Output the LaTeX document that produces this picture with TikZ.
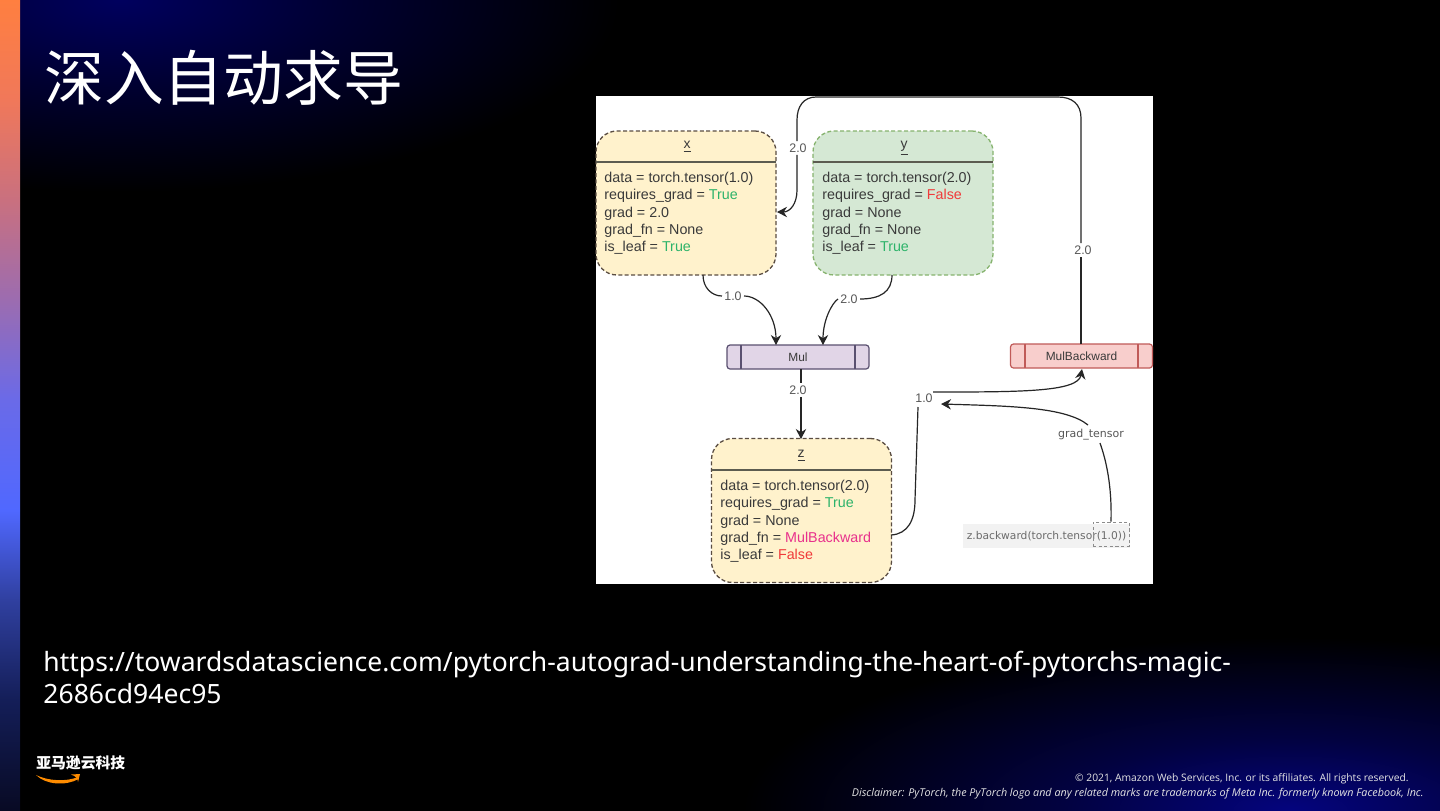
\documentclass[tikz,border=0pt]{standalone}
\usepackage{fontspec}
\usetikzlibrary{arrows.meta}
\setmainfont{Liberation Sans}
\newfontfamily\cjk{Noto Sans CJK SC}
\newfontfamily\urlfont{Noto Sans}
\newfontfamily\footfont{Open Sans}
\newfontfamily\wide{DejaVu Sans}
\definecolor{navyglow}{HTML}{00005E}
\definecolor{navymid}{HTML}{000030}
\definecolor{navyglowb}{HTML}{04047E}
\definecolor{navymidb}{HTML}{020240}
\definecolor{creamb}{HTML}{FFF2CC}
\definecolor{greenb}{HTML}{D5E8D4}
\definecolor{purpb}{HTML}{E1D5E7}
\definecolor{redb}{HTML}{F8CECC}
\definecolor{darkedge}{HTML}{5A4D42}
\definecolor{greenedge}{HTML}{86B36E}
\definecolor{purpedge}{HTML}{5A5070}
\definecolor{rededge}{HTML}{C05A58}
\definecolor{rule}{HTML}{5C5C50}
\definecolor{ink}{HTML}{3A3A3A}
\definecolor{okgreen}{HTML}{2DB36A}
\definecolor{badred}{HTML}{F03A3A}
\definecolor{pinkish}{HTML}{E8308C}
\definecolor{sa}{HTML}{FF7F40}
\definecolor{sb}{HTML}{F0785A}
\definecolor{sc}{HTML}{C87080}
\definecolor{sd}{HTML}{9C6CB0}
\definecolor{se}{HTML}{6A6AE8}
\definecolor{sf}{HTML}{5068FF}
\definecolor{sg}{HTML}{3040A0}
\definecolor{sh}{HTML}{141E58}
\definecolor{si}{HTML}{080A24}
\pgfdeclareverticalshading{stripshade}{100bp}{color(0bp)=(si); color(25bp)=(si); color(31.8bp)=(sh); color(38bp)=(sg); color(43.5bp)=(sf); color(50.3bp)=(se); color(56.5bp)=(sd); color(62.5bp)=(sc); color(68.8bp)=(sb); color(75bp)=(sa); color(100bp)=(sa)}
\pgfdeclareradialshading{glowtop}{\pgfpointorigin}{color(0bp)=(navyglow); color(11bp)=(navymid); color(24bp)=(black); color(50bp)=(black)}
\pgfdeclareradialshading{glowbottom}{\pgfpointorigin}{color(0bp)=(navyglowb); color(10bp)=(navymidb); color(24bp)=(black); color(50bp)=(black)}
\tikzset{
  objbox/.style={rounded corners=10.5pt,dashed,dash pattern=on 2pt off 1.2pt,line width=.65pt,minimum width=90pt,minimum height=72pt,inner sep=0pt},
  funcbox/.style={rounded corners=1.5pt,line width=.6pt,minimum width=71pt,minimum height=12pt,inner sep=0pt},
  body/.style={anchor=north west,inner sep=0pt,align=left,text=ink,font=\fontsize{7.15pt}{8.6pt}\selectfont},
  heading/.style={inner sep=0pt,text=ink,font=\fontsize{7pt}{8pt}\selectfont},
  edgelabel/.style={inner sep=1pt,text=ink!85,font=\fontsize{6.2pt}{7pt}\selectfont},
  conn/.style={draw=black!85,line width=.6pt},
  connarrow/.style={conn,-{Stealth[length=5pt,width=5.2pt]}},
}
\begin{document}
\begin{tikzpicture}[x=0.5pt,y=-0.5pt]
\useasboundingbox (0,0) rectangle (1440,810);
\fill[black] (-6,-6) rectangle (1446,816);
% background glows
\begin{scope}
\clip (20,0) rectangle (1440,810);
\shade[shading=glowtop] (-400,-200) rectangle (640,200);
\shade[shading=glowbottom] (720,630) rectangle (1860,990);
\end{scope}
% left strip
\shade[shading=stripshade] (-6,0) rectangle (20,810);
% title
\node[anchor=west,inner sep=0pt,text=white,font=\cjk\fontsize{29.9pt}{32pt}\selectfont] (title) at (44,78) {深入自动求导};
% url
\node[anchor=north west,inner sep=0pt,align=left,text=white,font=\urlfont\fontsize{13.27pt}{16pt}\selectfont] (url) at (43,651) {https://towardsdatascience.com/pytorch-autograd-understanding-the-heart-of-pytorchs-magic-\\2686cd94ec95};
% image
\fill[white] (596,96) rectangle (1153,584);
% boxes
\node[objbox,draw=darkedge,fill=creamb] (boxx) at (686,203) {};
\node[objbox,draw=greenedge,fill=greenb] (boxy) at (903,203) {};
\node[objbox,draw=darkedge,fill=creamb] (boxz) at (801.5,510.5) {};
\draw[rule,line width=.9pt] (596,162) -- (776,162);
\draw[rule,line width=.9pt] (813,162) -- (993,162);
\draw[rule,line width=.9pt] (712,470) -- (891,470);
\node[heading] (xhead) at (687,147) {\underline{x}};
\node[heading] (yhead) at (904,148) {\underline{y}};
\node[heading] (zhead) at (801,456) {\underline{z}};
\node[body] (xbody) at (604,172) {data = torch.tensor(1.0)\\requires\_grad = \textcolor{okgreen}{True}\\grad = 2.0\\grad\_fn = None\\is\_leaf = \textcolor{okgreen}{True}};
\node[body] (ybody) at (822,172) {data = torch.tensor(2.0)\\requires\_grad = \textcolor{badred}{False}\\grad = None\\grad\_fn = None\\is\_leaf = \textcolor{okgreen}{True}};
\node[body] (zbody) at (720,480) {data = torch.tensor(2.0)\\requires\_grad = \textcolor{okgreen}{True}\\grad = None\\grad\_fn = \textcolor{pinkish}{MulBackward}\\is\_leaf = \textcolor{badred}{False}};
% function boxes
\node[funcbox,draw=purpedge,fill=purpb,text=ink,font=\fontsize{5.95pt}{7pt}\selectfont] (mul) at (798,357) {Mul};
\draw[purpedge,line width=.6pt] (741,345) -- (741,369) (855,345) -- (855,369);
\node[funcbox,draw=rededge,fill=redb,text=ink,font=\fontsize{5.95pt}{7pt}\selectfont] (mulb) at (1081.5,356) {MulBackward};
\draw[rededge,line width=.6pt] (1025,344) -- (1025,368) (1138,344) -- (1138,368);
% z.backward call
\node[minimum width=83.5pt,minimum height=12pt,inner sep=0pt,fill=black!5,text=ink!75,font=\wide\fontsize{5.35pt}{7pt}\selectfont] (call) at (1046.5,536) {z.backward(torch.tensor(1.0))};
\node[draw=black!45,dashed,dash pattern=on 1.6pt off 1.2pt,line width=.4pt,minimum width=18pt,minimum height=12pt,inner sep=0pt] (arg) at (1111,534) {};
% edge labels
\node[edgelabel] (l20top) at (798,148) {2.0};
\node[edgelabel] (l20right) at (1083,250) {2.0};
\node[edgelabel] (l10x) at (733,296) {1.0};
\node[edgelabel] (l20y) at (849,299) {2.0};
\node[edgelabel] (l20mul) at (798,390) {2.0};
\node[edgelabel] (l10z) at (924,398) {1.0};
\node[edgelabel,font=\wide\fontsize{5.5pt}{7pt}\selectfont] (lgrad) at (1091,435) {grad\_tensor};
% connector helper points
\coordinate (xout) at (703,275);
\coordinate (mulinl) at (776,345);
\coordinate (yout) at (892,275);
\coordinate (mulinr) at (823,345);
\coordinate (mulout) at (801,369);
\coordinate (zin) at (801,439);
\coordinate (zout) at (891,535);
\coordinate (mulbin) at (1082,369);
\coordinate (mulbout) at (1081,344);
\coordinate (xin) at (777,212);
\coordinate (lab10in) at (941,404);
\coordinate (lab10up) at (918,407);
\coordinate (lab10out) at (933,392);
\coordinate (gradlow) at (1100,443);
\coordinate (gradup) at (1088,425);
% connectors
\draw[conn] (xout) .. controls (703,288) and (712,296) .. (l10x.west);
\draw[connarrow] (l10x.east) .. controls (760,296) and (776,315) .. (mulinl);
\draw[conn] (yout) .. controls (892,292) and (880,299) .. (l20y.east);
\draw[connarrow] (l20y.west) .. controls (832,303) and (823,320) .. (mulinr);
\draw[conn] (mulout) -- (l20mul.north -| mulout);
\draw[connarrow] (l20mul.south -| mulout) -- (zin);
\draw[conn] (zout) .. controls (908,534) and (915,520) .. (915,500) -- (lab10up);
\draw[connarrow] (lab10out) .. controls (1020,392) and (1078,392) .. (mulbin);
\draw[conn] (mulbout) -- (l20right.south -| mulbout);
\draw[conn] (l20right.north -| mulbout) -- (1081,118) .. controls (1081,104) and (1072,97) .. (1058,97) -- (816,97) .. controls (804,97) and (797,106) .. (797,120) -- (l20top.north -| 797,0);
\draw[connarrow] (l20top.south -| 797,0) -- (797,190) .. controls (797,204) and (790,212) .. (xin);
\draw[conn] (arg.north) .. controls (1112,485) and (1106,460) .. (gradlow);
\draw[connarrow] (gradup) .. controls (1066,407) and (1010,406) .. (lab10in);
% logo
\node[anchor=west,inner sep=0pt,text=white,font=\cjk\bfseries\fontsize{7.4pt}{9pt}\selectfont] (logo) at (36,763) {亚马逊云科技};
\fill[orange!90!yellow] (36,775) .. controls (48,781) and (66,782) .. (78,777) -- (78.5,779) .. controls (66,786) and (46,785) .. (36,775) -- cycle;
\fill[orange!90!yellow] (71,774.5) -- (80,774) -- (78,782) .. controls (78,779) and (76,776) .. (71,774.5) -- cycle;
% footer
\node[anchor=east,inner sep=0pt,text=white!90!black,font=\footfont\fontsize{5.15pt}{7pt}\selectfont] (copy) at (1409,779) {© 2021, Amazon Web Services, Inc. or its affiliates. All rights reserved.};
\node[anchor=east,inner sep=0pt,text=white!90!black,font=\footfont\itshape\fontsize{5.38pt}{7pt}\selectfont] (discl) at (1424,794) {Disclaimer: PyTorch, the PyTorch logo and any related marks are trademarks of Meta Inc. formerly known Facebook, Inc.};
\end{tikzpicture}
\end{document}
